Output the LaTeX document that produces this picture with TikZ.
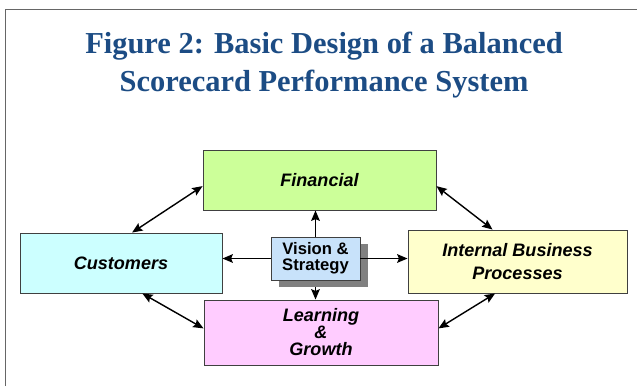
\documentclass[tikz,border=0pt]{standalone}
\usepackage{fontspec}
\setmainfont{Liberation Serif}
\newfontfamily\arialfont{Liberation Sans}
\usetikzlibrary{arrows.meta,shadows}

\definecolor{titleblue}{RGB}{28,76,132}
\definecolor{fingreen}{RGB}{204,255,153}
\definecolor{custcyan}{RGB}{204,255,255}
\definecolor{intyellow}{RGB}{255,255,204}
\definecolor{learnpink}{RGB}{255,204,255}
\definecolor{visblue}{RGB}{200,226,250}

\tikzset{
  perspective/.style={draw=black!75,line width=0.8pt,align=center,inner sep=0pt,
    font=\arialfont\bfseries\itshape\fontsize{15.4}{19.5}\selectfont},
  link/.style={line width=1.2pt,-{Stealth[length=3.1mm,width=2.6mm,inset=0.5mm]}},
  twoway/.style={line width=1.2pt,{Stealth[length=3.1mm,width=2.6mm,inset=0.5mm]}-{Stealth[length=3.1mm,width=2.6mm,inset=0.5mm]}}
}

\begin{document}
\begin{tikzpicture}[x=0.03cm,y=-0.03cm]
    \useasboundingbox (0,0) rectangle (637,386);

    % frame
    \draw[black!60,line width=1.6pt] (5.5,386) -- (5.5,9.5) -- (637,9.5);

    % title
    \node[text=titleblue,font=\bfseries\fontsize{26}{32}\selectfont,align=center] (title) at (324,65)
        {Figure 2: Basic Design of a Balanced\\Scorecard Performance System};

    % perspectives
    \node[perspective,fill=fingreen,minimum width=6.99cm,minimum height=1.8cm] (fin) at (319.5,180) {Financial};
    \node[perspective,fill=custcyan,minimum width=6.06cm,minimum height=1.8cm] (cust) at (121,263) {Customers};
    \node[perspective,fill=intyellow,minimum width=6.57cm,minimum height=1.89cm] (int) at (517.5,261.5) {Internal Business\\Processes};
    \node[perspective,fill=learnpink,minimum width=7.02cm,minimum height=1.95cm,
          font=\arialfont\bfseries\itshape\fontsize{15.4}{14.5}\selectfont] (learn) at (321,332.5) {Learning\\\&\\Growth};

    % centre
    \node[draw=black!75,line width=0.8pt,fill=visblue,minimum width=2.67cm,minimum height=1.29cm,inner sep=0pt,
          align=center,font=\arialfont\bfseries\fontsize{14.2}{13.8}\selectfont,
          drop shadow={shadow xshift=0.24cm,shadow yshift=-0.21cm,fill=black!50,opacity=1}] (vis) at (315.5,258.5)
        {Vision \&\\Strategy};

    % arrows from the centre
    \draw[link] (vis.north) -- (vis.north |- fin.south);
    \draw[link] (vis.west) -- (vis.west -| cust.east);
    \draw[link] (vis.east) -- (vis.east -| int.west);
    \draw[link,shorten <=0.21cm] (vis.south) -- (vis.south |- learn.north);

    % arrows between perspectives
    \draw[twoway] (cust.70) -- (fin.183);
    \draw[twoway] (fin.-3) -- (int.128);
    \draw[twoway] (cust.-55) -- (learn.178);
    \draw[twoway] (int.235) -- (learn.2);
\end{tikzpicture}
\end{document}
